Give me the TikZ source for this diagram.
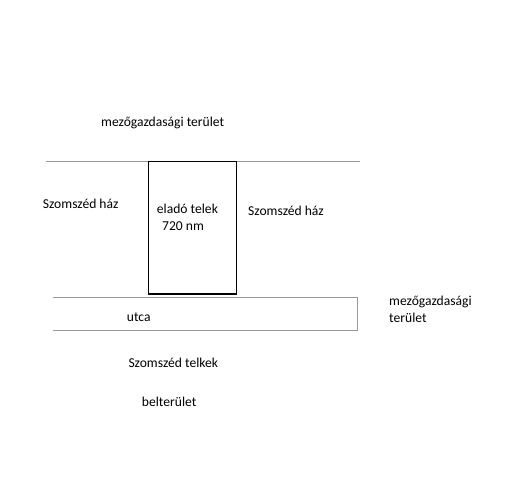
\documentclass[tikz,border=0pt]{standalone}
\usepackage{fontspec}
\setmainfont{Carlito}
\usepackage{tikz}

\begin{document}
\begin{tikzpicture}[x=1pt, y=-1pt, every node/.style={anchor=west, inner sep=0pt, font=\fontsize{13.6}{16}\selectfont}]
    \useasboundingbox[fill=white] (0,0) rectangle (512,480);
    % lines
    \draw[gray!80, line width=0.6pt] (46,161.7) -- (360,161.7);
    \draw[gray!80, line width=0.6pt] (53,297.3) -- (357.7,297.3) -- (357.7,330) -- (53,330);
    \draw[black, line width=1.4pt] (148.3,161.7) rectangle (236.7,294);
    % labels
    \node (north) at (101,122.7) {mezőgazdasági terület};
    \node (leftH) at (42.7,204) {Szomszéd ház};
    \node (plot) at (156.7,209.3) {eladó telek};
    \node (area) at (162,226) {720 nm};
    \node (rightH) at (248,211) {Szomszéd ház};
    \node (east1) at (389,301.7) {mezőgazdasági};
    \node (east2) at (389,318.3) {terület};
    \node (street) at (126.7,317.7) {utca};
    \node (south) at (128.3,363.3) {Szomszéd telkek};
    \node (inner) at (141.7,402.3) {belterület};
\end{tikzpicture}
\end{document}
